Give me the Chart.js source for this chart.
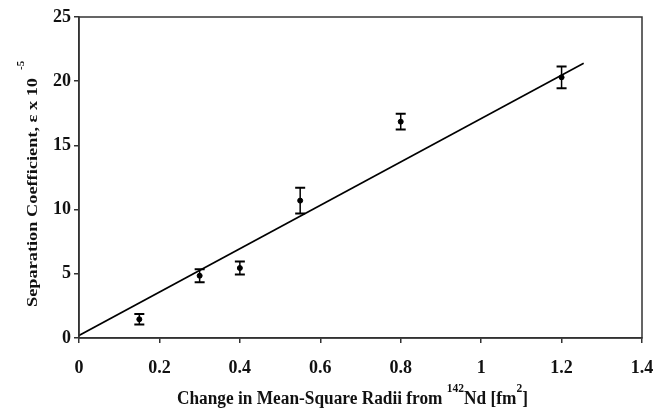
<!DOCTYPE html>
<html>
<head>
<meta charset="utf-8">
<script src="https://cdn.jsdelivr.net/npm/chart.js@4/dist/chart.umd.min.js"></script>
<style>
  html, body { margin: 0; padding: 0; background: #fff; }
  #wrap { width: 654px; height: 408px; position: relative; }
</style>
</head>
<body>
<div id="wrap"><canvas id="c"></canvas></div>
<script>
// Measured points (change in mean-square radii vs separation coefficient)
const xValues = [0.15, 0.30, 0.40, 0.55, 0.80, 1.20];
const yValues = [1.46, 4.85, 5.45, 10.7, 16.85, 20.3];
const yErrors = [0.40, 0.50, 0.50, 1.00, 0.62, 0.85];
// Linear fit line endpoints
const fitX = [0, 1.255];
const fitY = [0.2, 21.4];
// Axis ticks
const xTicks = [0, 0.2, 0.4, 0.6, 0.8, 1, 1.2, 1.4];
const yTicks = [0, 5, 10, 15, 20, 25];
const yTitle = "Separation Coefficient, \u03b5 x 10";
const yTitleSup = "-5";
const xTitleParts = [
  { t: "Change in Mean-Square Radii from ", sup: false },
  { t: "142", sup: true },
  { t: "Nd [fm", sup: false },
  { t: "2", sup: true },
  { t: "]", sup: false }
];

const FONT = '"Liberation Serif", "Times New Roman", serif';

const errorBars = {
  id: 'errorBars',
  afterDatasetsDraw(chart) {
    const ctx = chart.ctx, xs = chart.scales.x, ys = chart.scales.y;
    ctx.save();
    ctx.strokeStyle = '#000';
    for (let i = 0; i < xValues.length; i++) {
      const px = xs.getPixelForValue(xValues[i]);
      const top = ys.getPixelForValue(yValues[i] + yErrors[i]);
      const bot = ys.getPixelForValue(yValues[i] - yErrors[i]);
      ctx.lineWidth = 1.5;
      ctx.beginPath(); ctx.moveTo(px, top); ctx.lineTo(px, bot); ctx.stroke();
      ctx.lineWidth = 2;
      ctx.beginPath();
      ctx.moveTo(px - 5, top); ctx.lineTo(px + 5, top);
      ctx.moveTo(px - 5, bot); ctx.lineTo(px + 5, bot);
      ctx.stroke();
    }
    ctx.restore();
  }
};

const frameAndTitles = {
  id: 'frameAndTitles',
  afterDraw(chart) {
    const ctx = chart.ctx, a = chart.chartArea;
    ctx.save();
    ctx.strokeStyle = '#333';
    ctx.lineWidth = 1.5;
    ctx.strokeRect(a.left, a.top, a.right - a.left, a.bottom - a.top);

    ctx.fillStyle = '#111';
    // Y title (rotated)
    ctx.save();
    ctx.translate(37, 307);
    ctx.rotate(-Math.PI / 2);
    ctx.font = 'bold 15px ' + FONT;
    ctx.textAlign = 'left';
    ctx.textBaseline = 'alphabetic';
    const w = ctx.measureText(yTitle).width;
    const target = 229;
    ctx.save();
    ctx.scale(target / w, 1);
    ctx.fillText(yTitle, 0, 0);
    ctx.restore();
    ctx.font = 'bold 11px ' + FONT;
    ctx.fillText(yTitleSup, target + 8, -13);
    ctx.restore();

    // X title with superscripts
    ctx.save();
    const mainFont = 'bold 18px ' + FONT, supFont = 'bold 12px ' + FONT;
    let total = 0;
    const widths = xTitleParts.map(p => {
      ctx.font = p.sup ? supFont : mainFont;
      const ww = ctx.measureText(p.t).width;
      total += ww;
      return ww;
    });
    const tw = 351, sx = tw / total;
    ctx.translate(177, 404);
    ctx.scale(sx, 1);
    let cx = 0;
    xTitleParts.forEach((p, i) => {
      ctx.font = p.sup ? supFont : mainFont;
      ctx.textBaseline = 'alphabetic';
      ctx.fillText(p.t, cx, p.sup ? -12 : 0);
      cx += widths[i];
    });
    ctx.restore();
    ctx.restore();
  }
};

new Chart(document.getElementById('c'), {
  type: 'scatter',
  data: {
    datasets: [
      {
        label: 'Data',
        data: xValues.map((x, i) => ({ x: x, y: yValues[i] })),
        backgroundColor: '#000',
        borderColor: '#000',
        pointRadius: 2.5,
        pointStyle: 'circle',
        showLine: false
      },
      {
        label: 'Fit',
        data: fitX.map((x, i) => ({ x: x, y: fitY[i] })),
        showLine: true,
        borderColor: '#000',
        borderWidth: 1.6,
        pointRadius: 0,
        fill: false
      }
    ]
  },
  options: {
    responsive: true,
    maintainAspectRatio: false,
    animation: false,
    layout: { padding: { top: 17, right: 12, left: 0, bottom: 0 } },
    plugins: { legend: { display: false }, tooltip: { enabled: false } },
    scales: {
      x: {
        type: 'linear',
        min: 0, max: 1.4,
        afterBuildTicks(s) { s.ticks = xTicks.map(v => ({ value: v })); },
        afterFit(s) { s.height = 70; s.paddingRight = 0; s.paddingLeft = 0; },
        grid: { drawOnChartArea: false, drawTicks: true, tickLength: 5, tickColor: '#333', lineWidth: 1.5 },
        border: { display: true, color: '#333', width: 1.5 },
        ticks: { color: '#111', font: { family: FONT, size: 18, weight: 'bold' }, padding: 15, maxRotation: 0,
                 callback: v => String(v) }
      },
      y: {
        type: 'linear',
        min: 0, max: 25,
        afterBuildTicks(s) { s.ticks = yTicks.map(v => ({ value: v })); },
        afterFit(s) { s.width = 79; s.paddingTop = 0; s.paddingBottom = 0; },
        grid: { drawOnChartArea: false, drawTicks: true, tickLength: 5, tickColor: '#333', lineWidth: 1.5 },
        border: { display: true, color: '#333', width: 1.5 },
        ticks: { color: '#111', font: { family: FONT, size: 18, weight: 'bold' }, padding: 3,
                 callback: v => String(v) }
      }
    }
  },
  plugins: [errorBars, frameAndTitles]
});
</script>
</body>
</html>
